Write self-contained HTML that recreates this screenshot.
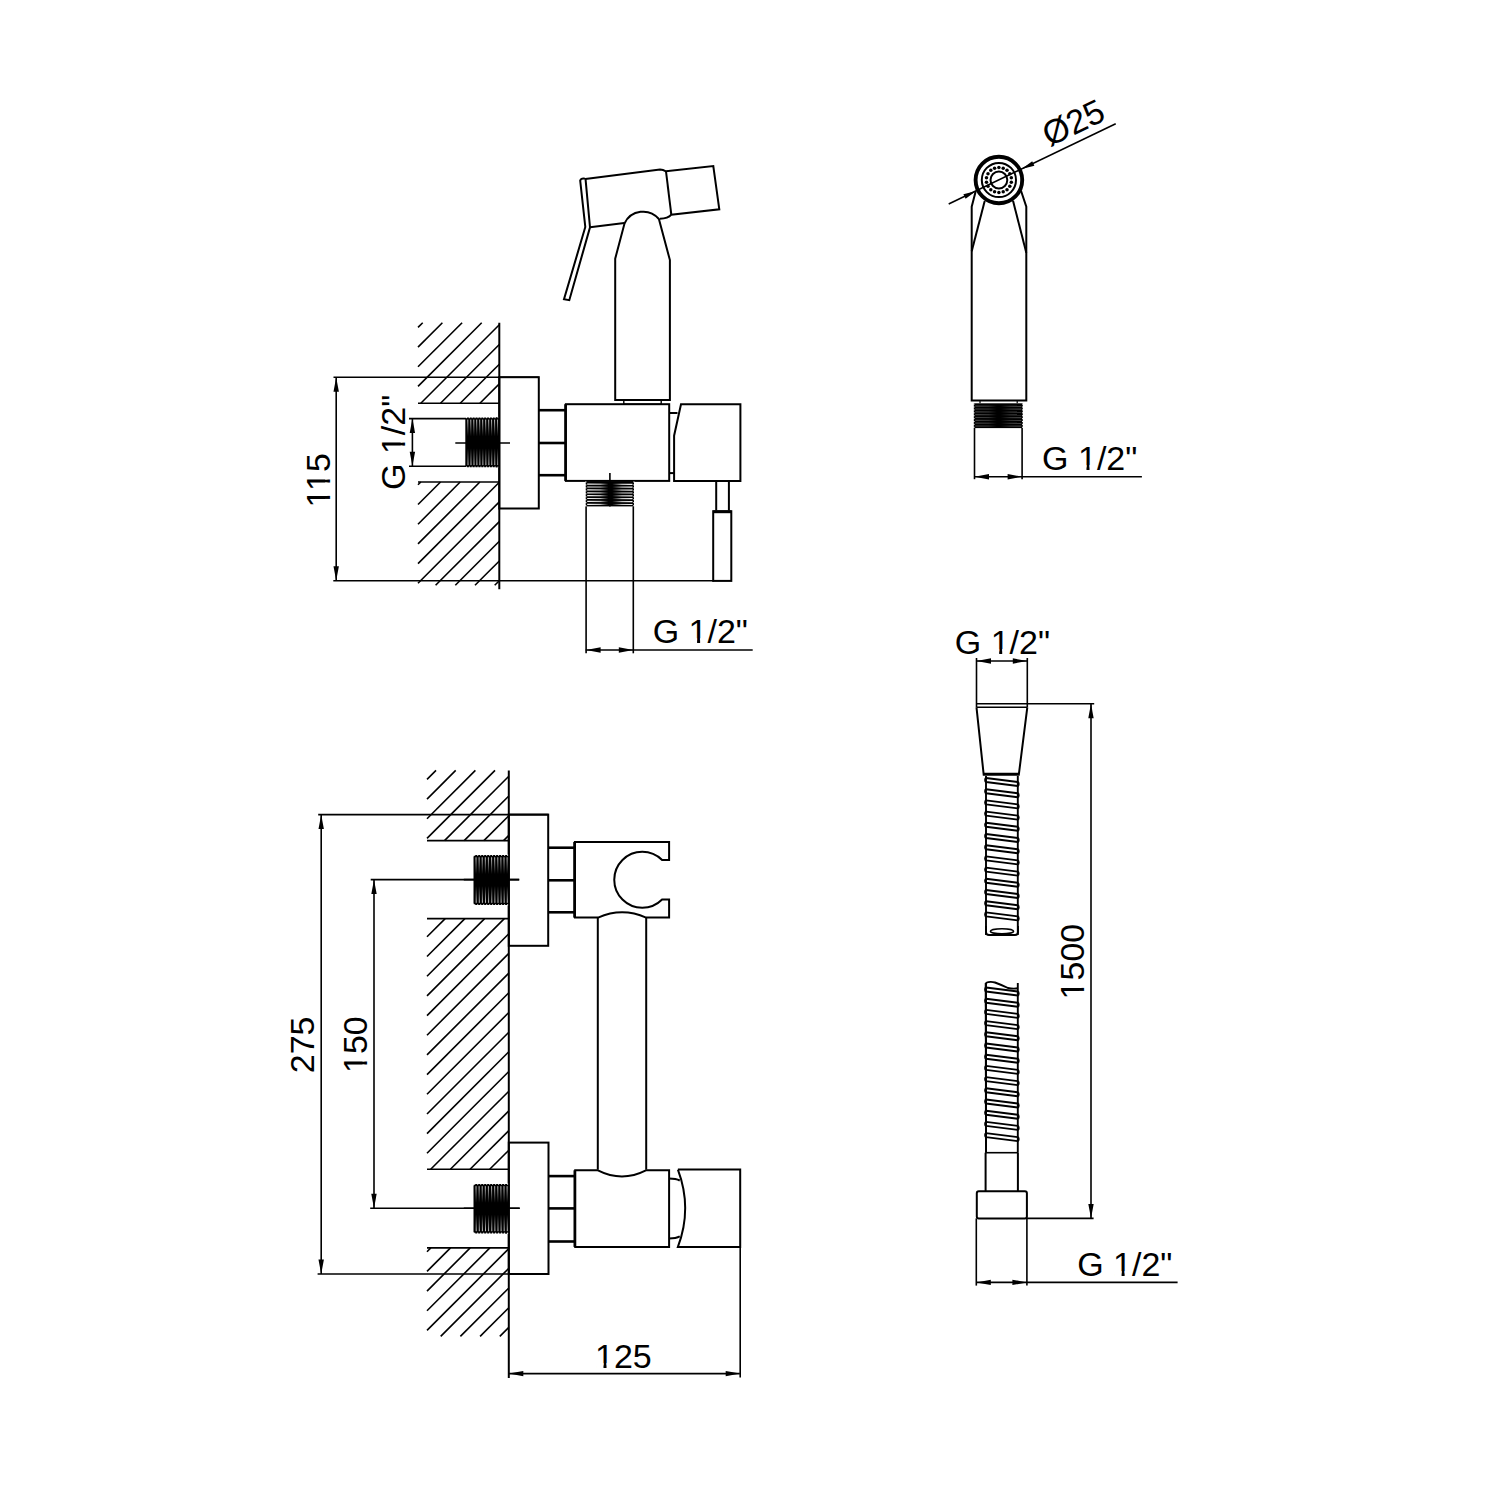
<!DOCTYPE html>
<html><head><meta charset="utf-8"><style>
html,body{margin:0;padding:0;background:#fff;width:1500px;height:1500px;overflow:hidden}
svg{display:block}
text{font-family:"Liberation Sans",sans-serif;font-size:34px;fill:#000;stroke:none}
</style></head><body>
<svg width="1500" height="1500" viewBox="0 0 1500 1500" stroke="#000" stroke-linecap="butt" stroke-linejoin="miter" fill="none">
<rect x="0" y="0" width="1500" height="1500" fill="#fff" stroke="none"/>
<line x1="418.0" y1="327.4" x2="422.7" y2="322.7" stroke-width="1.6"/>
<line x1="418.0" y1="347.1" x2="442.4" y2="322.7" stroke-width="1.6"/>
<line x1="418.0" y1="366.8" x2="462.1" y2="322.7" stroke-width="1.6"/>
<line x1="418.0" y1="386.4" x2="481.7" y2="322.7" stroke-width="1.6"/>
<line x1="420.8" y1="403.3" x2="499.3" y2="324.8" stroke-width="1.6"/>
<line x1="440.5" y1="403.3" x2="499.3" y2="344.5" stroke-width="1.6"/>
<line x1="460.2" y1="403.3" x2="499.3" y2="364.2" stroke-width="1.6"/>
<line x1="479.9" y1="403.3" x2="499.3" y2="383.9" stroke-width="1.6"/>
<line x1="418.0" y1="484.8" x2="420.8" y2="482.0" stroke-width="1.6"/>
<line x1="418.0" y1="504.5" x2="440.5" y2="482.0" stroke-width="1.6"/>
<line x1="418.0" y1="524.2" x2="460.2" y2="482.0" stroke-width="1.6"/>
<line x1="418.0" y1="543.9" x2="479.9" y2="482.0" stroke-width="1.6"/>
<line x1="418.0" y1="563.6" x2="499.3" y2="482.3" stroke-width="1.6"/>
<line x1="418.0" y1="583.2" x2="499.3" y2="501.9" stroke-width="1.6"/>
<line x1="435.6" y1="585.3" x2="499.3" y2="521.6" stroke-width="1.6"/>
<line x1="455.3" y1="585.3" x2="499.3" y2="541.3" stroke-width="1.6"/>
<line x1="475.0" y1="585.3" x2="499.3" y2="561.0" stroke-width="1.6"/>
<line x1="494.7" y1="585.3" x2="499.3" y2="580.7" stroke-width="1.6"/>
<line x1="418.0" y1="403.3" x2="499.3" y2="403.3" stroke-width="1.6"/>
<line x1="418.0" y1="482.0" x2="499.3" y2="482.0" stroke-width="1.6"/>
<line x1="499.3" y1="322.7" x2="499.3" y2="589.3" stroke-width="2.0"/>
<line x1="333.5" y1="377.2" x2="538.8" y2="377.2" stroke-width="1.6"/>
<line x1="336.2" y1="377.2" x2="336.2" y2="580.7" stroke-width="1.6"/>
<line x1="333.3" y1="580.7" x2="714.0" y2="580.7" stroke-width="1.6"/>
<path d="M336.2,377.2 L338.9,391.7 L333.5,391.7 Z" fill="#000" stroke="none"/>
<path d="M336.2,580.7 L333.5,566.2 L338.9,566.2 Z" fill="#000" stroke="none"/>
<g transform="translate(329.8,507.4) rotate(-90)"><text x="0" y="0">115</text><rect x="1.53" y="-4.76" width="6.95" height="6.12" fill="#fff" stroke="none"/><rect x="11.51" y="-4.76" width="6.68" height="6.12" fill="#fff" stroke="none"/><rect x="17.91" y="-4.76" width="6.95" height="6.12" fill="#fff" stroke="none"/><rect x="27.89" y="-4.76" width="6.68" height="6.12" fill="#fff" stroke="none"/></g>
<line x1="409.0" y1="418.6" x2="466.0" y2="418.6" stroke-width="1.6"/>
<line x1="409.0" y1="466.3" x2="466.0" y2="466.3" stroke-width="1.6"/>
<line x1="412.4" y1="418.6" x2="412.4" y2="466.3" stroke-width="1.6"/>
<path d="M412.4,418.6 L415.1,433.1 L409.7,433.1 Z" fill="#000" stroke="none"/>
<path d="M412.4,466.3 L409.7,451.8 L415.1,451.8 Z" fill="#000" stroke="none"/>
<g transform="translate(405.4,490) rotate(-90)"><text x="0" y="0">G 1/2&quot;</text><rect x="37.43" y="-4.76" width="6.95" height="6.12" fill="#fff" stroke="none"/><rect x="47.41" y="-4.76" width="6.68" height="6.12" fill="#fff" stroke="none"/></g>
<defs><linearGradient id="tv1" gradientUnits="userSpaceOnUse" x1="0" y1="417.4" x2="0" y2="467.3"><stop offset="0" stop-color="#fff" stop-opacity="0.9"/><stop offset="0.38" stop-color="#fff" stop-opacity="0"/><stop offset="0.62" stop-color="#fff" stop-opacity="0"/><stop offset="1" stop-color="#fff" stop-opacity="0.9"/></linearGradient></defs>
<rect x="465.3" y="417.4" width="34.0" height="49.9" rx="2" fill="#000" stroke="none"/>
<rect x="495.3" y="417.4" width="4" height="49.9" fill="#000" stroke="none"/>
<path d="M467.8,419.6 L468.0,465.1" stroke="url(#tv1)" stroke-width="1.0"/>
<path d="M470.8,419.6 L471.0,465.1" stroke="url(#tv1)" stroke-width="1.0"/>
<path d="M473.8,419.6 L474.0,465.1" stroke="url(#tv1)" stroke-width="1.0"/>
<path d="M476.7,419.6 L476.9,465.1" stroke="url(#tv1)" stroke-width="1.0"/>
<path d="M479.7,419.6 L479.9,465.1" stroke="url(#tv1)" stroke-width="1.0"/>
<path d="M482.7,419.6 L482.9,465.1" stroke="url(#tv1)" stroke-width="1.0"/>
<path d="M485.7,419.6 L485.9,465.1" stroke="url(#tv1)" stroke-width="1.0"/>
<path d="M488.7,419.6 L488.9,465.1" stroke="url(#tv1)" stroke-width="1.0"/>
<path d="M491.6,419.6 L491.8,465.1" stroke="url(#tv1)" stroke-width="1.0"/>
<path d="M494.6,419.6 L494.8,465.1" stroke="url(#tv1)" stroke-width="1.0"/>
<path d="M497.6,419.6 L497.8,465.1" stroke="url(#tv1)" stroke-width="1.0"/>
<line x1="466.5" y1="416.8" x2="466.5" y2="418.2" stroke="#fff" stroke-width="0.9"/>
<line x1="466.5" y1="466.5" x2="466.5" y2="467.9" stroke="#fff" stroke-width="0.9"/>
<line x1="469.4" y1="416.8" x2="469.4" y2="418.2" stroke="#fff" stroke-width="0.9"/>
<line x1="469.4" y1="466.5" x2="469.4" y2="467.9" stroke="#fff" stroke-width="0.9"/>
<line x1="472.2" y1="416.8" x2="472.2" y2="418.2" stroke="#fff" stroke-width="0.9"/>
<line x1="472.2" y1="466.5" x2="472.2" y2="467.9" stroke="#fff" stroke-width="0.9"/>
<line x1="475.1" y1="416.8" x2="475.1" y2="418.2" stroke="#fff" stroke-width="0.9"/>
<line x1="475.1" y1="466.5" x2="475.1" y2="467.9" stroke="#fff" stroke-width="0.9"/>
<line x1="478.0" y1="416.8" x2="478.0" y2="418.2" stroke="#fff" stroke-width="0.9"/>
<line x1="478.0" y1="466.5" x2="478.0" y2="467.9" stroke="#fff" stroke-width="0.9"/>
<line x1="480.9" y1="416.8" x2="480.9" y2="418.2" stroke="#fff" stroke-width="0.9"/>
<line x1="480.9" y1="466.5" x2="480.9" y2="467.9" stroke="#fff" stroke-width="0.9"/>
<line x1="483.7" y1="416.8" x2="483.7" y2="418.2" stroke="#fff" stroke-width="0.9"/>
<line x1="483.7" y1="466.5" x2="483.7" y2="467.9" stroke="#fff" stroke-width="0.9"/>
<line x1="486.6" y1="416.8" x2="486.6" y2="418.2" stroke="#fff" stroke-width="0.9"/>
<line x1="486.6" y1="466.5" x2="486.6" y2="467.9" stroke="#fff" stroke-width="0.9"/>
<line x1="489.5" y1="416.8" x2="489.5" y2="418.2" stroke="#fff" stroke-width="0.9"/>
<line x1="489.5" y1="466.5" x2="489.5" y2="467.9" stroke="#fff" stroke-width="0.9"/>
<line x1="492.4" y1="416.8" x2="492.4" y2="418.2" stroke="#fff" stroke-width="0.9"/>
<line x1="492.4" y1="466.5" x2="492.4" y2="467.9" stroke="#fff" stroke-width="0.9"/>
<line x1="495.2" y1="416.8" x2="495.2" y2="418.2" stroke="#fff" stroke-width="0.9"/>
<line x1="495.2" y1="466.5" x2="495.2" y2="467.9" stroke="#fff" stroke-width="0.9"/>
<line x1="498.1" y1="416.8" x2="498.1" y2="418.2" stroke="#fff" stroke-width="0.9"/>
<line x1="498.1" y1="466.5" x2="498.1" y2="467.9" stroke="#fff" stroke-width="0.9"/>
<line x1="455.3" y1="443.0" x2="510.0" y2="443.0" stroke-width="1.6"/>
<rect x="499.3" y="377.2" width="39.5" height="131.3" stroke-width="2.0" fill="none"/>
<line x1="538.8" y1="410.2" x2="565.9" y2="410.2" stroke-width="2.6"/>
<line x1="538.8" y1="443.0" x2="565.9" y2="443.0" stroke-width="2.6"/>
<line x1="538.8" y1="475.2" x2="565.9" y2="475.2" stroke-width="2.6"/>
<line x1="565.5" y1="404.2" x2="565.5" y2="480.9" stroke-width="2.6"/>
<rect x="565.9" y="404.2" width="103.3" height="76.7" stroke-width="2.0" fill="none"/>
<rect x="623.8" y="400.3" width="37.4" height="3.9" stroke-width="1.4" fill="none"/>
<path d="M615.2,400.1 L615.2,258.7 L624.5,223.5 A20.6,20.6 0 0,1 658.9,219 L669.9,260.1 L669.9,400.1 Z" stroke-width="2.0" fill="none"/>
<path d="M585.3,179 L660,169.6 Q663,169.8 666,171.3 L713.3,166 L719.3,209.3 L671.3,214.7 Q668,218.7 660,218.7" stroke-width="2.0" fill="none"/>
<line x1="666.0" y1="171.3" x2="671.3" y2="214.7" stroke-width="2.0"/>
<path d="M590,227.3 L624.3,222.9" stroke-width="2.0" fill="none"/>
<path d="M580.2,180.6 Q580.8,178.2 584,178.4 Q585.6,178.6 585.6,179.6 L590,227.3 L569.3,300.2 L564,299.3 L585.3,227 Z" stroke-width="2.0" fill="none"/>
<path d="M681,404.2 L740.4,404.2 L740.4,480.9 L674.1,480.9 L674.1,435.7 Z" stroke-width="2.0" fill="none"/>
<line x1="669.2" y1="413.0" x2="677.5" y2="413.0" stroke-width="2.0"/>
<line x1="669.2" y1="473.1" x2="674.1" y2="473.1" stroke-width="2.0"/>
<defs><linearGradient id="th2" gradientUnits="userSpaceOnUse" x1="585.7" y1="0" x2="634" y2="0"><stop offset="0.05" stop-color="#fff" stop-opacity="0.95"/><stop offset="0.3" stop-color="#fff" stop-opacity="0.76"/><stop offset="0.47" stop-color="#fff" stop-opacity="0"/><stop offset="0.55" stop-color="#fff" stop-opacity="0"/><stop offset="0.75" stop-color="#fff" stop-opacity="0.76"/><stop offset="0.95" stop-color="#fff" stop-opacity="0.95"/></linearGradient></defs>
<rect x="585.7" y="481.2" width="48.3" height="25.2" fill="#000" stroke="none"/>
<path d="M587.2,484.1 L632.5,484.3" stroke="url(#th2)" stroke-width="1.2"/>
<path d="M587.2,487.0 L632.5,487.2" stroke="url(#th2)" stroke-width="1.2"/>
<path d="M587.2,489.9 L632.5,490.1" stroke="url(#th2)" stroke-width="1.2"/>
<path d="M587.2,492.8 L632.5,493.0" stroke="url(#th2)" stroke-width="1.2"/>
<path d="M587.2,495.6 L632.5,495.8" stroke="url(#th2)" stroke-width="1.2"/>
<path d="M587.2,498.5 L632.5,498.7" stroke="url(#th2)" stroke-width="1.2"/>
<path d="M587.2,501.4 L632.5,501.6" stroke="url(#th2)" stroke-width="1.2"/>
<path d="M587.2,504.3 L632.5,504.5" stroke="url(#th2)" stroke-width="1.2"/>
<line x1="585.1" y1="482.0" x2="586.5" y2="482.0" stroke="#fff" stroke-width="0.9"/>
<line x1="633.2" y1="482.0" x2="634.6" y2="482.0" stroke="#fff" stroke-width="0.9"/>
<line x1="585.1" y1="484.9" x2="586.5" y2="484.9" stroke="#fff" stroke-width="0.9"/>
<line x1="633.2" y1="484.9" x2="634.6" y2="484.9" stroke="#fff" stroke-width="0.9"/>
<line x1="585.1" y1="487.9" x2="586.5" y2="487.9" stroke="#fff" stroke-width="0.9"/>
<line x1="633.2" y1="487.9" x2="634.6" y2="487.9" stroke="#fff" stroke-width="0.9"/>
<line x1="585.1" y1="490.9" x2="586.5" y2="490.9" stroke="#fff" stroke-width="0.9"/>
<line x1="633.2" y1="490.9" x2="634.6" y2="490.9" stroke="#fff" stroke-width="0.9"/>
<line x1="585.1" y1="493.8" x2="586.5" y2="493.8" stroke="#fff" stroke-width="0.9"/>
<line x1="633.2" y1="493.8" x2="634.6" y2="493.8" stroke="#fff" stroke-width="0.9"/>
<line x1="585.1" y1="496.8" x2="586.5" y2="496.8" stroke="#fff" stroke-width="0.9"/>
<line x1="633.2" y1="496.8" x2="634.6" y2="496.8" stroke="#fff" stroke-width="0.9"/>
<line x1="585.1" y1="499.7" x2="586.5" y2="499.7" stroke="#fff" stroke-width="0.9"/>
<line x1="633.2" y1="499.7" x2="634.6" y2="499.7" stroke="#fff" stroke-width="0.9"/>
<line x1="585.1" y1="502.6" x2="586.5" y2="502.6" stroke="#fff" stroke-width="0.9"/>
<line x1="633.2" y1="502.6" x2="634.6" y2="502.6" stroke="#fff" stroke-width="0.9"/>
<line x1="585.1" y1="505.6" x2="586.5" y2="505.6" stroke="#fff" stroke-width="0.9"/>
<line x1="633.2" y1="505.6" x2="634.6" y2="505.6" stroke="#fff" stroke-width="0.9"/>
<line x1="609.9" y1="473.1" x2="609.9" y2="506.4" stroke-width="1.6"/>
<line x1="586.1" y1="506.4" x2="586.1" y2="653.3" stroke-width="1.6"/>
<line x1="633.3" y1="506.4" x2="633.3" y2="653.3" stroke-width="1.6"/>
<line x1="585.7" y1="650.0" x2="752.7" y2="650.0" stroke-width="1.6"/>
<path d="M586.1,650.0 L600.6,647.3 L600.6,652.7 Z" fill="#000" stroke="none"/>
<path d="M633.3,650.0 L618.8,652.7 L618.8,647.3 Z" fill="#000" stroke="none"/>
<g transform="translate(652.7,643)"><text x="0" y="0">G 1/2&quot;</text><rect x="37.43" y="-4.76" width="6.95" height="6.12" fill="#fff" stroke="none"/><rect x="47.41" y="-4.76" width="6.68" height="6.12" fill="#fff" stroke="none"/></g>
<line x1="716.2" y1="480.9" x2="716.2" y2="510.5" stroke-width="2.0"/>
<line x1="728.9" y1="480.9" x2="728.9" y2="510.5" stroke-width="2.0"/>
<rect x="713.2" y="511.2" width="18.1" height="69.7" stroke-width="2.0" fill="none"/>
<line x1="713.2" y1="511.8" x2="731.3" y2="511.8" stroke-width="2.8"/>
<circle cx="998.9" cy="180.0" r="23.3" stroke-width="3.9" fill="none"/>
<circle cx="998.9" cy="180.0" r="17.1" stroke-width="2.0" fill="none"/>
<circle cx="998.9" cy="180.0" r="8.4" stroke-width="2.0" fill="none"/>
<circle cx="998.90" cy="167.40" r="1.75" fill="#000" stroke="none"/>
<circle cx="994.59" cy="168.16" r="1.75" fill="#000" stroke="none"/>
<circle cx="990.80" cy="170.35" r="1.75" fill="#000" stroke="none"/>
<circle cx="987.99" cy="173.70" r="1.75" fill="#000" stroke="none"/>
<circle cx="986.49" cy="177.81" r="1.75" fill="#000" stroke="none"/>
<circle cx="986.49" cy="182.19" r="1.75" fill="#000" stroke="none"/>
<circle cx="987.99" cy="186.30" r="1.75" fill="#000" stroke="none"/>
<circle cx="990.80" cy="189.65" r="1.75" fill="#000" stroke="none"/>
<circle cx="994.59" cy="191.84" r="1.75" fill="#000" stroke="none"/>
<circle cx="998.90" cy="192.60" r="1.75" fill="#000" stroke="none"/>
<circle cx="1003.21" cy="191.84" r="1.75" fill="#000" stroke="none"/>
<circle cx="1007.00" cy="189.65" r="1.75" fill="#000" stroke="none"/>
<circle cx="1009.81" cy="186.30" r="1.75" fill="#000" stroke="none"/>
<circle cx="1011.31" cy="182.19" r="1.75" fill="#000" stroke="none"/>
<circle cx="1011.31" cy="177.81" r="1.75" fill="#000" stroke="none"/>
<circle cx="1009.81" cy="173.70" r="1.75" fill="#000" stroke="none"/>
<circle cx="1007.00" cy="170.35" r="1.75" fill="#000" stroke="none"/>
<circle cx="1003.21" cy="168.16" r="1.75" fill="#000" stroke="none"/>
<line x1="948.7" y1="204.0" x2="1115.7" y2="123.7" stroke-width="1.6"/>
<path d="M976.2,190.9 L965.6,198.8 L963.4,194.3 Z" fill="#000" stroke="none"/>
<path d="M1021.6,169.1 L1032.2,161.2 L1034.4,165.7 Z" fill="#000" stroke="none"/>
<text x="0" y="0" transform="translate(1049.4,147.1) rotate(-25.68)">Ø25</text>
<path d="M975.7,191.3 L971.7,206.7 L971.7,400.5 L1026.3,400.5 L1026.3,206.7 L1021,190.7" stroke-width="2.0" fill="none"/>
<line x1="984.7" y1="201.0" x2="971.7" y2="251.3" stroke-width="2.0"/>
<line x1="1013.0" y1="200.7" x2="1026.3" y2="252.7" stroke-width="2.0"/>
<line x1="980.0" y1="400.5" x2="980.0" y2="403.3" stroke-width="1.2"/>
<line x1="1017.2" y1="400.5" x2="1017.2" y2="403.3" stroke-width="1.2"/>
<defs><linearGradient id="th3" gradientUnits="userSpaceOnUse" x1="973.8" y1="0" x2="1022.8" y2="0"><stop offset="0.05" stop-color="#fff" stop-opacity="0.25"/><stop offset="0.3" stop-color="#fff" stop-opacity="0.2"/><stop offset="0.47" stop-color="#fff" stop-opacity="0"/><stop offset="0.55" stop-color="#fff" stop-opacity="0"/><stop offset="0.75" stop-color="#fff" stop-opacity="0.2"/><stop offset="0.95" stop-color="#fff" stop-opacity="0.25"/></linearGradient></defs>
<rect x="973.8" y="403.3" width="49.0" height="24.8" fill="#000" stroke="none"/>
<path d="M975.3,406.2 L1021.3,406.4" stroke="url(#th3)" stroke-width="1.2"/>
<path d="M975.3,409.0 L1021.3,409.2" stroke="url(#th3)" stroke-width="1.2"/>
<path d="M975.3,411.9 L1021.3,412.1" stroke="url(#th3)" stroke-width="1.2"/>
<path d="M975.3,414.7 L1021.3,414.9" stroke="url(#th3)" stroke-width="1.2"/>
<path d="M975.3,417.5 L1021.3,417.7" stroke="url(#th3)" stroke-width="1.2"/>
<path d="M975.3,420.3 L1021.3,420.5" stroke="url(#th3)" stroke-width="1.2"/>
<path d="M975.3,423.2 L1021.3,423.4" stroke="url(#th3)" stroke-width="1.2"/>
<path d="M975.3,426.0 L1021.3,426.2" stroke="url(#th3)" stroke-width="1.2"/>
<line x1="973.2" y1="404.1" x2="974.6" y2="404.1" stroke="#fff" stroke-width="0.9"/>
<line x1="1022.0" y1="404.1" x2="1023.4" y2="404.1" stroke="#fff" stroke-width="0.9"/>
<line x1="973.2" y1="407.0" x2="974.6" y2="407.0" stroke="#fff" stroke-width="0.9"/>
<line x1="1022.0" y1="407.0" x2="1023.4" y2="407.0" stroke="#fff" stroke-width="0.9"/>
<line x1="973.2" y1="409.9" x2="974.6" y2="409.9" stroke="#fff" stroke-width="0.9"/>
<line x1="1022.0" y1="409.9" x2="1023.4" y2="409.9" stroke="#fff" stroke-width="0.9"/>
<line x1="973.2" y1="412.8" x2="974.6" y2="412.8" stroke="#fff" stroke-width="0.9"/>
<line x1="1022.0" y1="412.8" x2="1023.4" y2="412.8" stroke="#fff" stroke-width="0.9"/>
<line x1="973.2" y1="415.7" x2="974.6" y2="415.7" stroke="#fff" stroke-width="0.9"/>
<line x1="1022.0" y1="415.7" x2="1023.4" y2="415.7" stroke="#fff" stroke-width="0.9"/>
<line x1="973.2" y1="418.6" x2="974.6" y2="418.6" stroke="#fff" stroke-width="0.9"/>
<line x1="1022.0" y1="418.6" x2="1023.4" y2="418.6" stroke="#fff" stroke-width="0.9"/>
<line x1="973.2" y1="421.5" x2="974.6" y2="421.5" stroke="#fff" stroke-width="0.9"/>
<line x1="1022.0" y1="421.5" x2="1023.4" y2="421.5" stroke="#fff" stroke-width="0.9"/>
<line x1="973.2" y1="424.4" x2="974.6" y2="424.4" stroke="#fff" stroke-width="0.9"/>
<line x1="1022.0" y1="424.4" x2="1023.4" y2="424.4" stroke="#fff" stroke-width="0.9"/>
<line x1="973.2" y1="427.3" x2="974.6" y2="427.3" stroke="#fff" stroke-width="0.9"/>
<line x1="1022.0" y1="427.3" x2="1023.4" y2="427.3" stroke="#fff" stroke-width="0.9"/>
<line x1="974.5" y1="428.0" x2="974.5" y2="479.2" stroke-width="1.6"/>
<line x1="1022.1" y1="428.0" x2="1022.1" y2="479.2" stroke-width="1.6"/>
<line x1="974.5" y1="476.7" x2="1141.9" y2="476.7" stroke-width="1.6"/>
<path d="M974.5,476.7 L989.0,474.0 L989.0,479.4 Z" fill="#000" stroke="none"/>
<path d="M1022.1,476.7 L1007.6,479.4 L1007.6,474.0 Z" fill="#000" stroke="none"/>
<g transform="translate(1042.1,469.7)"><text x="0" y="0">G 1/2&quot;</text><rect x="37.43" y="-4.76" width="6.95" height="6.12" fill="#fff" stroke="none"/><rect x="47.41" y="-4.76" width="6.68" height="6.12" fill="#fff" stroke="none"/></g>
<g transform="translate(954.8,653.8)"><text x="0" y="0">G 1/2&quot;</text><rect x="37.43" y="-4.76" width="6.95" height="6.12" fill="#fff" stroke="none"/><rect x="47.41" y="-4.76" width="6.68" height="6.12" fill="#fff" stroke="none"/></g>
<line x1="976.5" y1="658.0" x2="976.5" y2="707.3" stroke-width="1.6"/>
<line x1="1027.3" y1="658.0" x2="1027.3" y2="707.3" stroke-width="1.6"/>
<line x1="976.5" y1="661.0" x2="1027.3" y2="661.0" stroke-width="1.6"/>
<path d="M976.5,661.0 L991.0,658.3 L991.0,663.7 Z" fill="#000" stroke="none"/>
<path d="M1027.3,661.0 L1012.8,663.7 L1012.8,658.3 Z" fill="#000" stroke="none"/>
<line x1="976.5" y1="703.7" x2="1094.2" y2="703.7" stroke-width="1.6"/>
<line x1="976.5" y1="707.3" x2="1027.3" y2="707.3" stroke-width="1.6"/>
<path d="M976.5,707.3 L983.7,774.8 L1018.8,774.8 L1027.3,707.3" stroke-width="2.0" fill="none"/>
<line x1="983.7" y1="773.3" x2="1018.8" y2="773.3" stroke-width="1.2"/>
<line x1="1091.0" y1="703.7" x2="1091.0" y2="1218.4" stroke-width="1.6"/>
<path d="M1091.0,703.7 L1093.7,718.2 L1088.3,718.2 Z" fill="#000" stroke="none"/>
<path d="M1091.0,1218.4 L1088.3,1203.9 L1093.7,1203.9 Z" fill="#000" stroke="none"/>
<g transform="translate(1084,999.4) rotate(-90)"><text x="0" y="0">1500</text><rect x="1.53" y="-4.76" width="6.95" height="6.12" fill="#fff" stroke="none"/><rect x="11.51" y="-4.76" width="6.68" height="6.12" fill="#fff" stroke="none"/></g>
<line x1="1026.9" y1="1218.4" x2="1093.6" y2="1218.4" stroke-width="1.6"/>
<g stroke-width="1.9" fill="none" stroke-linejoin="round">
<path d="M986,776 L986,935 M1017.8,776 L1017.8,935"/>
<path d="M986,778.0 L1017.8,782.0 C1019.0,782.3 1019.0,785.7 1017.8,786.0 L986,782.0 C984.8,781.7 984.8,778.3 986,778.0 Z"/>
<path d="M986,789.2 L1017.8,793.2 C1019.0,793.5 1019.0,796.9 1017.8,797.2 L986,793.2 C984.8,792.9 984.8,789.5 986,789.2 Z"/>
<path d="M986,800.4 L1017.8,804.4 C1019.0,804.7 1019.0,808.1 1017.8,808.4 L986,804.4 C984.8,804.1 984.8,800.7 986,800.4 Z"/>
<path d="M986,811.6 L1017.8,815.6 C1019.0,815.9 1019.0,819.3 1017.8,819.6 L986,815.6 C984.8,815.3 984.8,811.9 986,811.6 Z"/>
<path d="M986,822.8 L1017.8,826.8 C1019.0,827.1 1019.0,830.5 1017.8,830.8 L986,826.8 C984.8,826.5 984.8,823.1 986,822.8 Z"/>
<path d="M986,834.0 L1017.8,838.0 C1019.0,838.3 1019.0,841.7 1017.8,842.0 L986,838.0 C984.8,837.7 984.8,834.3 986,834.0 Z"/>
<path d="M986,845.2 L1017.8,849.2 C1019.0,849.5 1019.0,852.9 1017.8,853.2 L986,849.2 C984.8,848.9 984.8,845.5 986,845.2 Z"/>
<path d="M986,856.4 L1017.8,860.4 C1019.0,860.7 1019.0,864.1 1017.8,864.4 L986,860.4 C984.8,860.1 984.8,856.7 986,856.4 Z"/>
<path d="M986,867.6 L1017.8,871.6 C1019.0,871.9 1019.0,875.3 1017.8,875.6 L986,871.6 C984.8,871.3 984.8,867.9 986,867.6 Z"/>
<path d="M986,878.8 L1017.8,882.8 C1019.0,883.1 1019.0,886.5 1017.8,886.8 L986,882.8 C984.8,882.5 984.8,879.1 986,878.8 Z"/>
<path d="M986,890.0 L1017.8,894.0 C1019.0,894.3 1019.0,897.7 1017.8,898.0 L986,894.0 C984.8,893.7 984.8,890.3 986,890.0 Z"/>
<path d="M986,901.2 L1017.8,905.2 C1019.0,905.5 1019.0,908.9 1017.8,909.2 L986,905.2 C984.8,904.9 984.8,901.5 986,901.2 Z"/>
<path d="M986,912.4 L1017.8,916.4 C1019.0,916.7 1019.0,920.1 1017.8,920.4 L986,916.4 C984.8,916.1 984.8,912.7 986,912.4 Z"/>
</g>
<path d="M986,926 L986,932 Q986,935 989,935 L1015,935 Q1018,935 1018,932 L1018,926" stroke-width="1.9" fill="none"/>
<ellipse cx="1002" cy="931.3" rx="11.6" ry="2.6" stroke-width="1.6" fill="none"/>
<g stroke-width="1.9" fill="none" stroke-linejoin="round">
<path d="M986,983 L986,1152.7 M1017.8,983 L1017.8,1152.7"/>
<path d="M986,987.5 L1017.8,991.5 C1019.0,991.8 1019.0,995.2 1017.8,995.5 L986,991.5 C984.8,991.2 984.8,987.8 986,987.5 Z"/>
<path d="M986,998.7 L1017.8,1002.7 C1019.0,1003.0 1019.0,1006.4 1017.8,1006.7 L986,1002.7 C984.8,1002.4 984.8,999.0 986,998.7 Z"/>
<path d="M986,1009.9 L1017.8,1013.9 C1019.0,1014.2 1019.0,1017.6 1017.8,1017.9 L986,1013.9 C984.8,1013.6 984.8,1010.2 986,1009.9 Z"/>
<path d="M986,1021.1 L1017.8,1025.1 C1019.0,1025.4 1019.0,1028.8 1017.8,1029.1 L986,1025.1 C984.8,1024.8 984.8,1021.4 986,1021.1 Z"/>
<path d="M986,1032.3 L1017.8,1036.3 C1019.0,1036.6 1019.0,1040.0 1017.8,1040.3 L986,1036.3 C984.8,1036.0 984.8,1032.6 986,1032.3 Z"/>
<path d="M986,1043.5 L1017.8,1047.5 C1019.0,1047.8 1019.0,1051.2 1017.8,1051.5 L986,1047.5 C984.8,1047.2 984.8,1043.8 986,1043.5 Z"/>
<path d="M986,1054.7 L1017.8,1058.7 C1019.0,1059.0 1019.0,1062.4 1017.8,1062.7 L986,1058.7 C984.8,1058.4 984.8,1055.0 986,1054.7 Z"/>
<path d="M986,1065.9 L1017.8,1069.9 C1019.0,1070.2 1019.0,1073.6 1017.8,1073.9 L986,1069.9 C984.8,1069.6 984.8,1066.2 986,1065.9 Z"/>
<path d="M986,1077.1 L1017.8,1081.1 C1019.0,1081.4 1019.0,1084.8 1017.8,1085.1 L986,1081.1 C984.8,1080.8 984.8,1077.4 986,1077.1 Z"/>
<path d="M986,1088.3 L1017.8,1092.3 C1019.0,1092.6 1019.0,1096.0 1017.8,1096.3 L986,1092.3 C984.8,1092.0 984.8,1088.6 986,1088.3 Z"/>
<path d="M986,1099.5 L1017.8,1103.5 C1019.0,1103.8 1019.0,1107.2 1017.8,1107.5 L986,1103.5 C984.8,1103.2 984.8,1099.8 986,1099.5 Z"/>
<path d="M986,1110.7 L1017.8,1114.7 C1019.0,1115.0 1019.0,1118.4 1017.8,1118.7 L986,1114.7 C984.8,1114.4 984.8,1111.0 986,1110.7 Z"/>
<path d="M986,1121.9 L1017.8,1125.9 C1019.0,1126.2 1019.0,1129.6 1017.8,1129.9 L986,1125.9 C984.8,1125.6 984.8,1122.2 986,1121.9 Z"/>
<path d="M986,1133.1 L1017.8,1137.1 C1019.0,1137.4 1019.0,1140.8 1017.8,1141.1 L986,1137.1 C984.8,1136.8 984.8,1133.4 986,1133.1 Z"/>
</g>
<path d="M986,1152.7 L1018,1152.7" stroke-width="1.6" fill="none"/>
<path d="M985.7,983 Q990,981 995,982.5 Q1003,985.5 1008,988 Q1013,989 1018,988.3" stroke-width="1.9" fill="none"/>
<line x1="985.7" y1="983.0" x2="986.0" y2="1152.7" stroke-width="1.9"/>
<line x1="985.6" y1="1152.7" x2="985.6" y2="1191.2" stroke-width="2.0"/>
<line x1="1017.9" y1="1152.7" x2="1017.9" y2="1191.2" stroke-width="2.0"/>
<rect x="976.8" y="1191.2" width="50.1" height="27.2" rx="2" stroke-width="2" fill="none"/>
<line x1="976.3" y1="1218.4" x2="976.3" y2="1285.6" stroke-width="1.6"/>
<line x1="1026.9" y1="1218.4" x2="1026.9" y2="1285.6" stroke-width="1.6"/>
<line x1="976.3" y1="1282.4" x2="1177.6" y2="1282.4" stroke-width="1.6"/>
<path d="M976.3,1282.4 L990.8,1279.7 L990.8,1285.1 Z" fill="#000" stroke="none"/>
<path d="M1026.9,1282.4 L1012.4,1285.1 L1012.4,1279.7 Z" fill="#000" stroke="none"/>
<g transform="translate(1077.2,1275.7)"><text x="0" y="0">G 1/2&quot;</text><rect x="37.43" y="-4.76" width="6.95" height="6.12" fill="#fff" stroke="none"/><rect x="47.41" y="-4.76" width="6.68" height="6.12" fill="#fff" stroke="none"/></g>
<line x1="427.0" y1="779.4" x2="436.0" y2="770.4" stroke-width="1.6"/>
<line x1="427.0" y1="799.1" x2="455.7" y2="770.4" stroke-width="1.6"/>
<line x1="427.0" y1="818.8" x2="475.4" y2="770.4" stroke-width="1.6"/>
<line x1="427.0" y1="838.4" x2="495.0" y2="770.4" stroke-width="1.6"/>
<line x1="444.5" y1="840.6" x2="508.8" y2="776.3" stroke-width="1.6"/>
<line x1="464.2" y1="840.6" x2="508.8" y2="796.0" stroke-width="1.6"/>
<line x1="483.9" y1="840.6" x2="508.8" y2="815.7" stroke-width="1.6"/>
<line x1="503.6" y1="840.6" x2="508.8" y2="835.4" stroke-width="1.6"/>
<line x1="427.0" y1="936.8" x2="445.2" y2="918.6" stroke-width="1.6"/>
<line x1="427.0" y1="956.5" x2="464.9" y2="918.6" stroke-width="1.6"/>
<line x1="427.0" y1="976.2" x2="484.6" y2="918.6" stroke-width="1.6"/>
<line x1="427.0" y1="995.9" x2="504.3" y2="918.6" stroke-width="1.6"/>
<line x1="427.0" y1="1015.6" x2="508.8" y2="933.8" stroke-width="1.6"/>
<line x1="427.0" y1="1035.2" x2="508.8" y2="953.4" stroke-width="1.6"/>
<line x1="427.0" y1="1054.9" x2="508.8" y2="973.1" stroke-width="1.6"/>
<line x1="427.0" y1="1074.6" x2="508.8" y2="992.8" stroke-width="1.6"/>
<line x1="427.0" y1="1094.3" x2="508.8" y2="1012.5" stroke-width="1.6"/>
<line x1="427.0" y1="1114.0" x2="508.8" y2="1032.2" stroke-width="1.6"/>
<line x1="427.0" y1="1133.6" x2="508.8" y2="1051.8" stroke-width="1.6"/>
<line x1="427.0" y1="1153.3" x2="508.8" y2="1071.5" stroke-width="1.6"/>
<line x1="430.7" y1="1169.3" x2="508.8" y2="1091.2" stroke-width="1.6"/>
<line x1="450.4" y1="1169.3" x2="508.8" y2="1110.9" stroke-width="1.6"/>
<line x1="470.1" y1="1169.3" x2="508.8" y2="1130.6" stroke-width="1.6"/>
<line x1="489.7" y1="1169.3" x2="508.8" y2="1150.2" stroke-width="1.6"/>
<line x1="427.0" y1="1251.7" x2="430.8" y2="1247.9" stroke-width="1.6"/>
<line x1="427.0" y1="1271.4" x2="450.5" y2="1247.9" stroke-width="1.6"/>
<line x1="427.0" y1="1291.1" x2="470.2" y2="1247.9" stroke-width="1.6"/>
<line x1="427.0" y1="1310.8" x2="489.9" y2="1247.9" stroke-width="1.6"/>
<line x1="427.0" y1="1330.4" x2="508.8" y2="1248.6" stroke-width="1.6"/>
<line x1="440.7" y1="1336.4" x2="508.8" y2="1268.3" stroke-width="1.6"/>
<line x1="460.4" y1="1336.4" x2="508.8" y2="1288.0" stroke-width="1.6"/>
<line x1="480.1" y1="1336.4" x2="508.8" y2="1307.7" stroke-width="1.6"/>
<line x1="499.8" y1="1336.4" x2="508.8" y2="1327.4" stroke-width="1.6"/>
<line x1="427.0" y1="840.6" x2="508.8" y2="840.6" stroke-width="1.6"/>
<line x1="427.0" y1="918.6" x2="508.8" y2="918.6" stroke-width="1.6"/>
<line x1="427.0" y1="1169.3" x2="508.8" y2="1169.3" stroke-width="1.6"/>
<line x1="427.0" y1="1247.9" x2="508.8" y2="1247.9" stroke-width="1.6"/>
<line x1="508.8" y1="770.4" x2="508.8" y2="1378.0" stroke-width="2.0"/>
<line x1="318.2" y1="814.6" x2="548.2" y2="814.6" stroke-width="1.6"/>
<line x1="321.2" y1="814.6" x2="321.2" y2="1274.0" stroke-width="1.6"/>
<line x1="317.6" y1="1274.0" x2="548.5" y2="1274.0" stroke-width="1.6"/>
<path d="M321.2,814.6 L323.9,829.1 L318.5,829.1 Z" fill="#000" stroke="none"/>
<path d="M321.2,1274.0 L318.5,1259.5 L323.9,1259.5 Z" fill="#000" stroke="none"/>
<g transform="translate(314,1073.2) rotate(-90)"><text x="0" y="0">275</text></g>
<line x1="370.7" y1="879.6" x2="519.2" y2="879.6" stroke-width="1.6"/>
<line x1="374.0" y1="879.6" x2="374.0" y2="1208.3" stroke-width="1.6"/>
<line x1="370.2" y1="1208.3" x2="519.7" y2="1208.3" stroke-width="1.6"/>
<path d="M374.0,879.6 L376.7,894.1 L371.3,894.1 Z" fill="#000" stroke="none"/>
<path d="M374.0,1208.3 L371.3,1193.8 L376.7,1193.8 Z" fill="#000" stroke="none"/>
<g transform="translate(367.2,1073) rotate(-90)"><text x="0" y="0">150</text><rect x="1.53" y="-4.76" width="6.95" height="6.12" fill="#fff" stroke="none"/><rect x="11.51" y="-4.76" width="6.68" height="6.12" fill="#fff" stroke="none"/></g>
<rect x="508.8" y="814.6" width="39.4" height="131.2" stroke-width="2.0" fill="none"/>
<rect x="508.8" y="1142.6" width="39.7" height="131.4" stroke-width="2.0" fill="none"/>
<defs><linearGradient id="tv4" gradientUnits="userSpaceOnUse" x1="0" y1="855.1" x2="0" y2="905.0"><stop offset="0" stop-color="#fff" stop-opacity="0.9"/><stop offset="0.38" stop-color="#fff" stop-opacity="0"/><stop offset="0.62" stop-color="#fff" stop-opacity="0"/><stop offset="1" stop-color="#fff" stop-opacity="0.9"/></linearGradient></defs>
<rect x="473.5" y="855.1" width="35.3" height="49.9" rx="2" fill="#000" stroke="none"/>
<rect x="504.8" y="855.1" width="4" height="49.9" fill="#000" stroke="none"/>
<path d="M476.0,857.3 L476.2,902.8" stroke="url(#tv4)" stroke-width="1.0"/>
<path d="M479.1,857.3 L479.3,902.8" stroke="url(#tv4)" stroke-width="1.0"/>
<path d="M482.2,857.3 L482.4,902.8" stroke="url(#tv4)" stroke-width="1.0"/>
<path d="M485.3,857.3 L485.5,902.8" stroke="url(#tv4)" stroke-width="1.0"/>
<path d="M488.4,857.3 L488.6,902.8" stroke="url(#tv4)" stroke-width="1.0"/>
<path d="M491.6,857.3 L491.8,902.8" stroke="url(#tv4)" stroke-width="1.0"/>
<path d="M494.7,857.3 L494.9,902.8" stroke="url(#tv4)" stroke-width="1.0"/>
<path d="M497.8,857.3 L498.0,902.8" stroke="url(#tv4)" stroke-width="1.0"/>
<path d="M500.9,857.3 L501.1,902.8" stroke="url(#tv4)" stroke-width="1.0"/>
<path d="M504.0,857.3 L504.2,902.8" stroke="url(#tv4)" stroke-width="1.0"/>
<path d="M507.1,857.3 L507.3,902.8" stroke="url(#tv4)" stroke-width="1.0"/>
<line x1="474.7" y1="854.5" x2="474.7" y2="855.9" stroke="#fff" stroke-width="0.9"/>
<line x1="474.7" y1="904.2" x2="474.7" y2="905.6" stroke="#fff" stroke-width="0.9"/>
<line x1="477.7" y1="854.5" x2="477.7" y2="855.9" stroke="#fff" stroke-width="0.9"/>
<line x1="477.7" y1="904.2" x2="477.7" y2="905.6" stroke="#fff" stroke-width="0.9"/>
<line x1="480.7" y1="854.5" x2="480.7" y2="855.9" stroke="#fff" stroke-width="0.9"/>
<line x1="480.7" y1="904.2" x2="480.7" y2="905.6" stroke="#fff" stroke-width="0.9"/>
<line x1="483.7" y1="854.5" x2="483.7" y2="855.9" stroke="#fff" stroke-width="0.9"/>
<line x1="483.7" y1="904.2" x2="483.7" y2="905.6" stroke="#fff" stroke-width="0.9"/>
<line x1="486.7" y1="854.5" x2="486.7" y2="855.9" stroke="#fff" stroke-width="0.9"/>
<line x1="486.7" y1="904.2" x2="486.7" y2="905.6" stroke="#fff" stroke-width="0.9"/>
<line x1="489.7" y1="854.5" x2="489.7" y2="855.9" stroke="#fff" stroke-width="0.9"/>
<line x1="489.7" y1="904.2" x2="489.7" y2="905.6" stroke="#fff" stroke-width="0.9"/>
<line x1="492.6" y1="854.5" x2="492.6" y2="855.9" stroke="#fff" stroke-width="0.9"/>
<line x1="492.6" y1="904.2" x2="492.6" y2="905.6" stroke="#fff" stroke-width="0.9"/>
<line x1="495.6" y1="854.5" x2="495.6" y2="855.9" stroke="#fff" stroke-width="0.9"/>
<line x1="495.6" y1="904.2" x2="495.6" y2="905.6" stroke="#fff" stroke-width="0.9"/>
<line x1="498.6" y1="854.5" x2="498.6" y2="855.9" stroke="#fff" stroke-width="0.9"/>
<line x1="498.6" y1="904.2" x2="498.6" y2="905.6" stroke="#fff" stroke-width="0.9"/>
<line x1="501.6" y1="854.5" x2="501.6" y2="855.9" stroke="#fff" stroke-width="0.9"/>
<line x1="501.6" y1="904.2" x2="501.6" y2="905.6" stroke="#fff" stroke-width="0.9"/>
<line x1="504.6" y1="854.5" x2="504.6" y2="855.9" stroke="#fff" stroke-width="0.9"/>
<line x1="504.6" y1="904.2" x2="504.6" y2="905.6" stroke="#fff" stroke-width="0.9"/>
<line x1="507.6" y1="854.5" x2="507.6" y2="855.9" stroke="#fff" stroke-width="0.9"/>
<line x1="507.6" y1="904.2" x2="507.6" y2="905.6" stroke="#fff" stroke-width="0.9"/>
<defs><linearGradient id="tv5" gradientUnits="userSpaceOnUse" x1="0" y1="1184" x2="0" y2="1233.4"><stop offset="0" stop-color="#fff" stop-opacity="0.9"/><stop offset="0.38" stop-color="#fff" stop-opacity="0"/><stop offset="0.62" stop-color="#fff" stop-opacity="0"/><stop offset="1" stop-color="#fff" stop-opacity="0.9"/></linearGradient></defs>
<rect x="473.5" y="1184.0" width="35.3" height="49.4" rx="2" fill="#000" stroke="none"/>
<rect x="504.8" y="1184.0" width="4" height="49.4" fill="#000" stroke="none"/>
<path d="M476.0,1186.2 L476.2,1231.2" stroke="url(#tv5)" stroke-width="1.0"/>
<path d="M479.1,1186.2 L479.3,1231.2" stroke="url(#tv5)" stroke-width="1.0"/>
<path d="M482.2,1186.2 L482.4,1231.2" stroke="url(#tv5)" stroke-width="1.0"/>
<path d="M485.3,1186.2 L485.5,1231.2" stroke="url(#tv5)" stroke-width="1.0"/>
<path d="M488.4,1186.2 L488.6,1231.2" stroke="url(#tv5)" stroke-width="1.0"/>
<path d="M491.6,1186.2 L491.8,1231.2" stroke="url(#tv5)" stroke-width="1.0"/>
<path d="M494.7,1186.2 L494.9,1231.2" stroke="url(#tv5)" stroke-width="1.0"/>
<path d="M497.8,1186.2 L498.0,1231.2" stroke="url(#tv5)" stroke-width="1.0"/>
<path d="M500.9,1186.2 L501.1,1231.2" stroke="url(#tv5)" stroke-width="1.0"/>
<path d="M504.0,1186.2 L504.2,1231.2" stroke="url(#tv5)" stroke-width="1.0"/>
<path d="M507.1,1186.2 L507.3,1231.2" stroke="url(#tv5)" stroke-width="1.0"/>
<line x1="474.7" y1="1183.4" x2="474.7" y2="1184.8" stroke="#fff" stroke-width="0.9"/>
<line x1="474.7" y1="1232.6" x2="474.7" y2="1234.0" stroke="#fff" stroke-width="0.9"/>
<line x1="477.7" y1="1183.4" x2="477.7" y2="1184.8" stroke="#fff" stroke-width="0.9"/>
<line x1="477.7" y1="1232.6" x2="477.7" y2="1234.0" stroke="#fff" stroke-width="0.9"/>
<line x1="480.7" y1="1183.4" x2="480.7" y2="1184.8" stroke="#fff" stroke-width="0.9"/>
<line x1="480.7" y1="1232.6" x2="480.7" y2="1234.0" stroke="#fff" stroke-width="0.9"/>
<line x1="483.7" y1="1183.4" x2="483.7" y2="1184.8" stroke="#fff" stroke-width="0.9"/>
<line x1="483.7" y1="1232.6" x2="483.7" y2="1234.0" stroke="#fff" stroke-width="0.9"/>
<line x1="486.7" y1="1183.4" x2="486.7" y2="1184.8" stroke="#fff" stroke-width="0.9"/>
<line x1="486.7" y1="1232.6" x2="486.7" y2="1234.0" stroke="#fff" stroke-width="0.9"/>
<line x1="489.7" y1="1183.4" x2="489.7" y2="1184.8" stroke="#fff" stroke-width="0.9"/>
<line x1="489.7" y1="1232.6" x2="489.7" y2="1234.0" stroke="#fff" stroke-width="0.9"/>
<line x1="492.6" y1="1183.4" x2="492.6" y2="1184.8" stroke="#fff" stroke-width="0.9"/>
<line x1="492.6" y1="1232.6" x2="492.6" y2="1234.0" stroke="#fff" stroke-width="0.9"/>
<line x1="495.6" y1="1183.4" x2="495.6" y2="1184.8" stroke="#fff" stroke-width="0.9"/>
<line x1="495.6" y1="1232.6" x2="495.6" y2="1234.0" stroke="#fff" stroke-width="0.9"/>
<line x1="498.6" y1="1183.4" x2="498.6" y2="1184.8" stroke="#fff" stroke-width="0.9"/>
<line x1="498.6" y1="1232.6" x2="498.6" y2="1234.0" stroke="#fff" stroke-width="0.9"/>
<line x1="501.6" y1="1183.4" x2="501.6" y2="1184.8" stroke="#fff" stroke-width="0.9"/>
<line x1="501.6" y1="1232.6" x2="501.6" y2="1234.0" stroke="#fff" stroke-width="0.9"/>
<line x1="504.6" y1="1183.4" x2="504.6" y2="1184.8" stroke="#fff" stroke-width="0.9"/>
<line x1="504.6" y1="1232.6" x2="504.6" y2="1234.0" stroke="#fff" stroke-width="0.9"/>
<line x1="507.6" y1="1183.4" x2="507.6" y2="1184.8" stroke="#fff" stroke-width="0.9"/>
<line x1="507.6" y1="1232.6" x2="507.6" y2="1234.0" stroke="#fff" stroke-width="0.9"/>
<line x1="463.8" y1="879.6" x2="519.2" y2="879.6" stroke-width="1.6"/>
<line x1="463.8" y1="1208.3" x2="519.7" y2="1208.3" stroke-width="1.6"/>
<line x1="548.2" y1="847.7" x2="575.0" y2="847.7" stroke-width="2.6"/>
<line x1="548.2" y1="880.3" x2="575.0" y2="880.3" stroke-width="2.6"/>
<line x1="548.2" y1="912.3" x2="575.0" y2="912.3" stroke-width="2.6"/>
<line x1="548.5" y1="1176.1" x2="575.2" y2="1176.1" stroke-width="2.6"/>
<line x1="548.5" y1="1208.4" x2="575.2" y2="1208.4" stroke-width="2.6"/>
<line x1="548.5" y1="1241.5" x2="575.2" y2="1241.5" stroke-width="2.6"/>
<line x1="574.5" y1="841.9" x2="574.5" y2="917.6" stroke-width="2.6"/>
<line x1="574.8" y1="1170.3" x2="574.8" y2="1246.9" stroke-width="2.6"/>
<path d="M575,841.9 H669.1 V860 H662.1 A28,28 0 1,0 662.1,899.5 H669.1 V917.6 H646.1 Q622.1,907 598.1,917.6 H575 Z" stroke-width="2.0" fill="none"/>
<line x1="597.8" y1="917.6" x2="597.8" y2="1169.6" stroke-width="2.0"/>
<line x1="646.2" y1="917.6" x2="646.2" y2="1169.6" stroke-width="2.0"/>
<path d="M575.2,1170.3 H597.9 Q622,1182.5 645.9,1170.3 H669.1 V1246.9 H575.2 Z" stroke-width="2.0" fill="none"/>
<path d="M677.9,1169.6 H740.2 V1246.9 H677.9 Q692.5,1208.3 677.9,1169.6" stroke-width="2.0" fill="none"/>
<path d="M669.1,1178.4 Q676,1178.4 679.8,1180.5" stroke-width="2.0" fill="none"/>
<path d="M669.1,1238.5 Q676,1238.5 679.8,1236.4" stroke-width="2.0" fill="none"/>
<line x1="740.2" y1="1246.9" x2="740.2" y2="1377.6" stroke-width="1.6"/>
<line x1="508.4" y1="1373.6" x2="739.8" y2="1373.6" stroke-width="1.6"/>
<path d="M508.8,1373.6 L523.3,1370.9 L523.3,1376.3 Z" fill="#000" stroke="none"/>
<path d="M740.2,1373.6 L725.7,1376.3 L725.7,1370.9 Z" fill="#000" stroke="none"/>
<g transform="translate(595,1367.7)"><text x="0" y="0">125</text><rect x="1.53" y="-4.76" width="6.95" height="6.12" fill="#fff" stroke="none"/><rect x="11.51" y="-4.76" width="6.68" height="6.12" fill="#fff" stroke="none"/></g>
</svg></body></html>
